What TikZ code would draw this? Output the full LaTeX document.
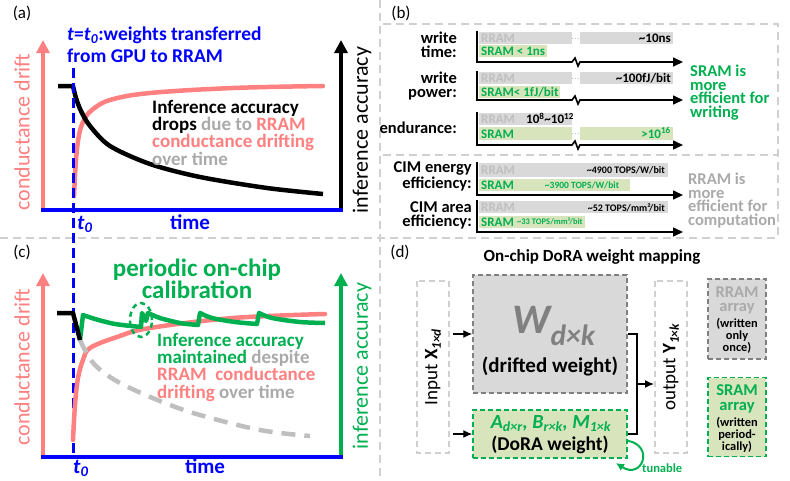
\documentclass[tikz,border=0pt]{standalone}
\usepackage{fontspec}
\setmainfont{Carlito}
\usepackage{tikz}
\usetikzlibrary{positioning}
\usetikzlibrary{arrows.meta}
\usetikzlibrary{calc}
\definecolor{pinkc}{RGB}{255,128,128}
\definecolor{greenc}{RGB}{0,176,80}
\definecolor{greenf}{RGB}{216,228,188}
\definecolor{grayf}{RGB}{217,217,217}
\definecolor{grayt}{RGB}{170,170,170}
\definecolor{grayl}{RGB}{191,191,191}
\definecolor{grayd}{RGB}{128,128,128}
\definecolor{framec}{RGB}{208,208,208}
\tikzset{
    divider/.style = {draw=framec, line width=2pt, dash pattern=on 8pt off 5pt},
    axisp/.style = {-{Triangle[length=13pt,width=13pt]}, line width=4pt, draw=pinkc},
    axisk/.style = {-{Triangle[length=13pt,width=13pt]}, line width=4pt, draw=black},
    axisg/.style = {-{Triangle[length=13pt,width=13pt]}, line width=4pt, draw=greenc},
    axist/.style = {line width=3.5pt, draw=blue},
    tzero/.style = {line width=3pt, draw=blue, dash pattern=on 10pt off 5pt},
    curvep/.style = {line width=4.5pt, draw=pinkc, line cap=round},
    curvek/.style = {line width=4.5pt, draw=black, line join=round},
    curveg/.style = {line width=4.5pt, draw=greenc, line join=round},
    curved/.style = {line width=4.5pt, draw=grayl, dash pattern=on 14pt off 9pt}, % without calibration
    panel/.style = {font=\fontsize{17}{17}\selectfont, inner sep=0pt},
    lblax/.style = {font=\fontsize{22}{22}\selectfont, rotate=90, inner sep=0pt},
    lbltime/.style = {font=\fontsize{21}{21}\selectfont\bfseries, text=blue, inner sep=0pt, anchor=base},
    txtblk/.style = {font=\fontsize{19}{17.3}\selectfont\bfseries, align=left, inner sep=0pt, anchor=base west},
    rowlbl/.style = {font=\fontsize{16.5}{14}\selectfont\bfseries, align=right, inner sep=0pt, anchor=base east},
    bartxt/.style = {font=\fontsize{13}{13}\selectfont\bfseries, inner sep=0pt, anchor=base west},
    smalltxt/.style = {font=\fontsize{10}{10}\selectfont\bfseries, inner sep=0pt, anchor=base east},
    baraxis/.style = {-{Triangle[length=10pt,width=9pt]}, line width=1.6pt},
    gapdot/.style = {draw=grayl, line width=1pt, dotted},
    note/.style = {font=\fontsize{16.5}{13.4}\selectfont\bfseries, align=left, inner sep=0pt, anchor=base west},
    iobox/.style = {draw=framec, line width=2pt, dash pattern=on 6pt off 4pt, rotate=90, minimum width=172pt, minimum height=32pt, inner sep=0pt, font=\fontsize{19}{19}\selectfont},
    wbox/.style = {draw=grayd, fill=grayf, line width=1.5pt, dash pattern=on 5pt off 3pt, inner sep=0pt},
    dbox/.style = {draw=greenc, fill=greenf, line width=1.5pt, dash pattern=on 5pt off 3pt, inner sep=0pt},
    boxtxt/.style = {inner sep=0pt, anchor=base, align=center},
    edgen/.style = {-{Latex[length=9pt,width=8pt]}, line width=1.3pt},
    edget/.style = {-{Latex[length=8pt,width=8pt]}, line width=2pt, draw=greenc}
}

\begin{document}
\begin{tikzpicture}[x=1pt, y=-1pt]
\useasboundingbox (0,0) rectangle (790,480);

% dividers
\draw[divider] (380,0) -- (380,480);
\draw[divider] (0,238) -- (778,238);
\draw[divider] (383,24) -- (778,24) -- (778,238);
\draw[divider] (383,155) -- (778,155);

%%% (a)
\node[panel] (pa) at (22,13) {(a)};
\coordinate (aO) at (41,210);
\coordinate (aE) at (343,210);
\coordinate (aL) at (43,40);
\coordinate (aR) at (341,40);
\draw[axisp] (43,212) -- (aL);
\draw[axisk] (341,212) -- (aR);
\draw[axist] (aO) -- (aE);
\node[lblax, text=pinkc] (yla) at (22,132) {conductance drift};
\node[lblax] (yra) at (362,130) {inference accuracy};
\node[lbltime, anchor=base west] (t0a) at (77,229) {\textit{t}\textsubscript{\textit{0}}};
\node[lbltime] (tma) at (190,229) {time};
\node[txtblk, text=blue, font=\fontsize{19.5}{22}\selectfont\bfseries] (ttla) at (67,62)
  {\textit{t}=\textit{t}\textsubscript{\textit{0}}:weights transferred\\from GPU to RRAM};

\draw[curvep] plot[smooth, tension=0.6] coordinates {(74,196) (76,160) (79,135) (84,120) (92,110) (110,100) (150,93) (233,88) (323,86)};
\draw[curvek] (58,86) -- plot[smooth, tension=0.5] coordinates {(73,86) (76,98) (81,111) (90,126) (110,146) (150,164) (200,177) (267,188) (323,194)};
\node[txtblk] (txa) at (152,165) {Inference accuracy\\drops \textcolor{grayt}{due to} \textcolor{pinkc}{RRAM}\\\textcolor{pinkc}{conductance drifting}\\\textcolor{grayt}{over time}};

% t0 line through (a) and (c)
\draw[tzero] (73,68) -- (73,458);

%%% (c)
\node[panel] (pc) at (22,252) {(c)};
\coordinate (cO) at (41,457);
\coordinate (cE) at (343,457);
\coordinate (cL) at (43,273);
\coordinate (cR) at (341,273);
\draw[axisp] (43,459) -- (cL);
\draw[axisg] (341,459) -- (cR);
\draw[axist] (cO) -- (cE);
\node[lblax, text=pinkc] (ylc) at (22,367) {conductance drift};
\node[lblax, text=greenc] (yrc) at (362,366) {inference accuracy};
\node[lbltime, anchor=base west] (t0c) at (73,473) {\textit{t}\textsubscript{\textit{0}}};
\node[lbltime] (tmc) at (205,473) {time};
\node[font=\fontsize{25}{22}\selectfont\bfseries, text=greenc, align=center, anchor=base, inner sep=0pt] (ttlc) at (197,298) {periodic on-chip\\calibration};

\draw[curvep] plot[smooth, tension=0.6] coordinates {(73,440) (75,405) (78,378) (83,360) (90,348) (117,337) (150,328) (233,318) (325,314)};
\draw[curved] plot[smooth, tension=0.6] coordinates {(80,340) (86,352) (95,365) (110,377) (130,388) (165,403) (200,415) (260,430) (310,436)};
\draw[curveg] (80,340) -- plot[smooth, tension=0.5] coordinates {(83,315) (95,319) (115,324) (141,327)}
  -- (142,313) -- (146,321)
  -- plot[smooth, tension=0.5] coordinates {(148,313) (160,318) (180,323) (198,325)}
  -- plot[smooth, tension=0.5] coordinates {(200,313) (212,318) (235,322) (257,324)}
  -- plot[smooth, tension=0.5] coordinates {(259,313) (272,318) (300,322) (325,323)};
\draw[curvek] (57,313) -- (73,313) -- (80,340);
\draw[greenc, line width=2.5pt, dash pattern=on 5pt off 4pt] (141,320) ellipse [x radius=11pt, y radius=17pt];
\node[txtblk, text=greenc] (txc) at (157,398) {Inference accuracy\\maintained \textcolor{grayt}{despite}\\\textcolor{pinkc}{RRAM\ \ conductance}\\\textcolor{pinkc}{drifting} \textcolor{grayt}{over time}};

%%% (b)
\node[panel] (pb) at (401,13) {(b)};
% write time
\node[rowlbl] (lwt) at (457,57) {write\\time:};
\fill[grayf] (479,32) rectangle (572,44);
\fill[grayf] (580,32) rectangle (673,44);
\draw[gapdot] (572,38) -- (580,38);
\fill[greenf] (479,45) rectangle (547,57);
\node[bartxt, text=grayl] (wtr) at (481,42.5) {RRAM};
\node[bartxt, anchor=base east] (wtrv) at (671,42.5) {\textasciitilde10ns};
\node[bartxt, text=greenc] (wts) at (481,55.5) {SRAM < 1ns};
\draw[baraxis] (477,31) |- (572,62) -- (575,58) -- (578,66) -- (580,62) -- (683,62);
% write power
\node[rowlbl] (lwp) at (457,97) {write\\power:};
\fill[grayf] (479,72) rectangle (572,84);
\fill[grayf] (580,72) rectangle (673,84);
\draw[gapdot] (572,78) -- (580,78);
\fill[greenf] (479,86) rectangle (560,98);
\node[bartxt, text=grayl] (wpr) at (481,82.5) {RRAM};
\node[bartxt, anchor=base east] (wprv) at (671,82.5) {\textasciitilde100fJ/bit};
\node[bartxt, text=greenc] (wps) at (481,96.5) {SRAM< 1fJ/bit};
\draw[baraxis] (477,71) |- (572,100) -- (575,96) -- (578,104) -- (580,100) -- (683,100);
% endurance
\node[rowlbl] (len) at (457,133) {endurance:};
\fill[grayf] (479,113) rectangle (572,125);
\fill[greenf] (479,127) rectangle (572,140);
\fill[greenf] (580,127) rectangle (673,140);
\draw[gapdot] (572,133) -- (580,133);
\node[bartxt, text=grayl] (enr) at (481,123.5) {RRAM};
\node[bartxt] (enrv) at (526,123.5) {10\textsuperscript{8}\textasciitilde10\textsuperscript{12}};
\node[bartxt, text=greenc] (ens) at (481,138) {SRAM};
\node[bartxt, text=greenc, anchor=base east] (ensv) at (671,138) {>10\textsuperscript{16}};
\draw[baraxis] (477,112) |- (572,145) -- (575,141) -- (578,149) -- (580,145) -- (683,145);
\node[note, text=greenc] (nsr) at (690,117) {SRAM is\\more\\efficient for\\writing};
% CIM energy efficiency
\node[rowlbl] (lce) at (472,188) {CIM energy\\efficiency:};
\fill[grayf] (479,163) rectangle (668,177);
\fill[greenf] (479,179) rectangle (630,191);
\node[bartxt, text=grayl] (cer) at (481,174.5) {RRAM};
\node[smalltxt] (cerv) at (665,173.5) {\textasciitilde4900 TOPS/W/bit};
\node[bartxt, text=greenc] (ces) at (481,189.5) {SRAM};
\node[smalltxt, text=greenc, font=\fontsize{9.5}{9.5}\selectfont\bfseries, anchor=base] (cesv) at (582,188) {\textasciitilde3900 TOPS/W/bit};
\draw[baraxis] (477,162) |- (683,195);
% CIM area efficiency
\node[rowlbl] (lca) at (472,226) {CIM area\\efficiency:};
\fill[grayf] (479,201) rectangle (668,213);
\fill[greenf] (479,216) rectangle (585,228);
\node[bartxt, text=grayl] (car) at (481,211.5) {RRAM};
\node[smalltxt] (carv) at (665,211) {\textasciitilde52 TOPS/mm²/bit};
\node[bartxt, text=greenc] (cas) at (481,226.5) {SRAM};
\node[smalltxt, text=greenc, font=\fontsize{8.5}{8.5}\selectfont\bfseries, anchor=base west] (casv) at (517,224.5) {\textasciitilde33 TOPS/mm²/bit};
\draw[baraxis] (477,200) |- (683,232);
\node[note, text=grayt] (nrr) at (688,225) {RRAM is\\more\\efficient for\\computation};

%%% (d)
\node[panel] (pd) at (400,252) {(d)};
\node[boxtxt, font=\fontsize{17}{17}\selectfont\bfseries] (ttld) at (592,261) {On-chip DoRA weight mapping};
\node[iobox] (inbox) at (433,367) {Input \textbf{X}\textsubscript{\textbf{\textit{1×d}}}};
\node[iobox] (outbox) at (671,367) {output \textbf{Y}\textsubscript{\textbf{\textit{1×k}}}};
\node[wbox, minimum width=154pt, minimum height=118pt] (wbox) at (550,334) {};
\node[dbox, minimum width=154pt, minimum height=48pt] (dbox) at (550,434) {};
\node[boxtxt, text=grayd, font=\fontsize{42}{42}\selectfont\bfseries\itshape] (wlbl) at (554,333) {W\textsubscript{d×k}};
\node[boxtxt, font=\fontsize{21}{21}\selectfont\bfseries] (wnote) at (550,372) {(drifted weight)};
\node[boxtxt, text=greenc, font=\fontsize{20}{20}\selectfont\bfseries\itshape] (dlbl) at (551,428) {A\textsubscript{d×r}, B\textsubscript{r×k}, M\textsubscript{1×k}};
\node[boxtxt, font=\fontsize{19.5}{19.5}\selectfont\bfseries] (dnote) at (550,450) {(DoRA weight)};

\draw[edgen, shorten <=3pt] (inbox.south |- wbox.west) -- (wbox.west);
\draw[edgen, shorten <=3pt] (inbox.south |- dbox.west) -- (dbox.west);
\coordinate (jx) at (637,0);
\coordinate (jm) at ($(wbox.east)!0.5!(dbox.east)$);
\draw[line width=1.3pt] (wbox.east) -| (jx |- dbox.east) -- (dbox.east);
\draw[edgen] (jx |- jm) -- (outbox.north |- jm);

\coordinate (tn1) at ($(dbox.south east)+(0,-18)$);
\coordinate (tn2) at (616,463);
\draw[edget] (tn1) .. controls (655,446) and (642,480) .. (tn2);
\node[bartxt, text=greenc, font=\fontsize{12.5}{12.5}\selectfont\bfseries] (tun) at (642,472) {tunable};

% legend arrays
\node[wbox, minimum width=58pt, minimum height=80pt] (rarr) at (737,319) {};
\node[boxtxt, text=grayt, font=\fontsize{16.5}{14}\selectfont\bfseries] (rarrt) at (737,311) {RRAM\\array};
\node[boxtxt, font=\fontsize{12.4}{11.8}\selectfont\bfseries] (rarrn) at (737,351) {(written\\only\\once)};
\node[dbox, minimum width=58pt, minimum height=79pt] (sarr) at (737,417) {};
\node[boxtxt, text=greenc, font=\fontsize{16.5}{15}\selectfont\bfseries] (sarrt) at (737,410) {SRAM\\array};
\node[boxtxt, font=\fontsize{12.4}{11.6}\selectfont\bfseries] (sarrn) at (737,450) {(written\\period-\\ically)};

\end{tikzpicture}
\end{document}
